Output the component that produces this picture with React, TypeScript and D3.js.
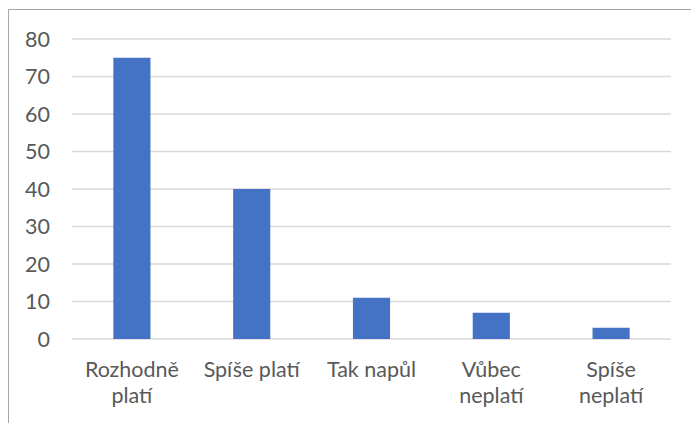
import React from "react";
import * as d3 from "d3";

const categories: string[][] = [
  ["Rozhodně", "platí"],
  ["Spíše platí"],
  ["Tak napůl"],
  ["Vůbec", "neplatí"],
  ["Spíše", "neplatí"],
];
const values: number[] = [75, 40, 11, 7, 3];
const yTicks: number[] = [0, 10, 20, 30, 40, 50, 60, 70, 80];

const W = 691;
const H = 423;
const M = { left: 72, right: 20, top: 39, bottom: 84 };
const FONT = "Lato, 'Open Sans', sans-serif";

export default function App() {
  const x = d3
    .scaleBand<number>()
    .domain(d3.range(values.length))
    .range([M.left, W - M.right])
    .paddingInner(0.69)
    .paddingOuter(0.345);
  const y = d3.scaleLinear().domain([0, 80]).range([H - M.bottom, M.top]);
  const step = x.step();

  return (
    <svg
      width={W}
      height={H}
      style={{ position: "absolute", left: 0, top: 0, background: "#fff" }}
    >
      <rect x={0} y={0} width={W} height={H} fill="#fff" />
      <line x1={8.5} y1={9.5} x2={W} y2={9.5} stroke="#a6a6a6" strokeWidth={1} />
      <line x1={8.5} y1={9.5} x2={8.5} y2={H} stroke="#a6a6a6" strokeWidth={1} />
      {yTicks.map((t) => (
        <g key={t}>
          <line
            x1={M.left}
            x2={W - M.right}
            y1={y(t)}
            y2={y(t)}
            stroke="#d9d9d9"
            strokeWidth={1.5}
          />
          <text
            x={50}
            y={y(t)}
            dy="0.36em"
            textAnchor="end"
            fontFamily={FONT}
            fontSize={21.5}
            fill="#595959"
          >
            {t}
          </text>
        </g>
      ))}
      {values.map((v, i) => (
        <rect
          key={i}
          x={x(i)}
          y={y(v)}
          width={x.bandwidth()}
          height={y(0) - y(v)}
          fill="#4472C4"
        />
      ))}
      {categories.map((lines, i) =>
        lines.map((l, j) => (
          <text
            key={`${i}-${j}`}
            x={M.left + step * (i + 0.5)}
            y={377 + j * 26}
            textAnchor="middle"
            fontFamily={FONT}
            fontSize={21.5}
            fill="#595959"
          >
            {l}
          </text>
        ))
      )}
    </svg>
  );
}
